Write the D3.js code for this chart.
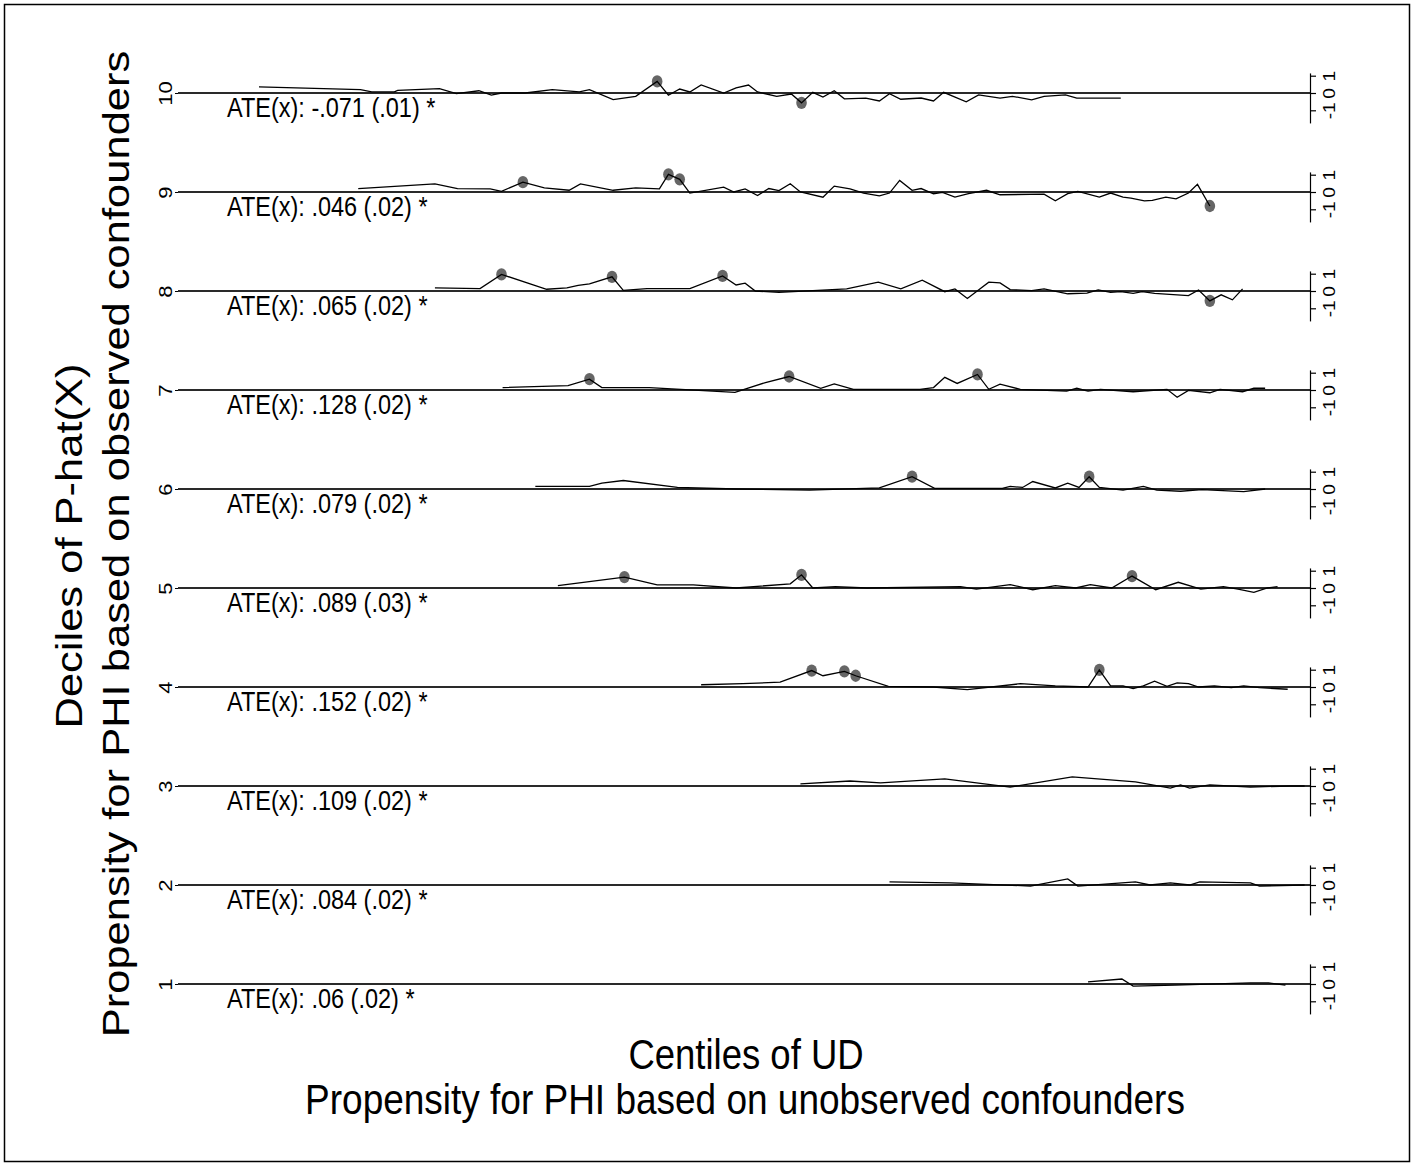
<!DOCTYPE html>
<html>
<head>
<meta charset="utf-8">
<script src="https://d3js.org/d3.v7.min.js"></script>
<style>
  body { margin: 0; background: #fff; }
  svg { display: block; font-family: "Liberation Sans", Arial, sans-serif; }
</style>
</head>
<body>
<svg id="chart" width="1414" height="1166"></svg>
<script>
// deciles of P-hat(X), top row first
const deciles = [10, 9, 8, 7, 6, 5, 4, 3, 2, 1];
const ateLabels = [
  'ATE(x): -.071 (.01) *', 'ATE(x): .046 (.02) *', 'ATE(x): .065 (.02) *',
  'ATE(x): .128 (.02) *', 'ATE(x): .079 (.02) *', 'ATE(x): .089 (.03) *',
  'ATE(x): .152 (.02) *', 'ATE(x): .109 (.02) *', 'ATE(x): .084 (.02) *',
  'ATE(x): .06 (.02) *'
];
const rightTicks = [-1, 0, 1];

// [centile of UD, effect] per decile
const d10 = [[7,0.35],[16,0.19],[17,0.06],[19,0.06],[19.3,0.15],[23,0.25],[24.5,-0.04],[26.5,0.13],[27.6,-0.12],[28.5,0],[30.6,0],[33,0.19],[35.4,0.06],[36.3,0.19],[38.4,-0.38],[40.4,-0.19],[42.3,0.67],[43.3,-0.13],[44.3,0.23],[45.2,0.06],[46.2,0.47],[48.2,0],[49.3,0.29],[50.4,0.46],[51.2,0.06],[52.9,-0.19],[54.2,-0.06],[55.1,-0.57],[56.1,0.04],[57,-0.23],[58,0.13],[58.9,-0.34],[60.8,-0.3],[62,-0.46],[62.9,-0.04],[63.9,-0.36],[65.7,-0.29],[66.8,-0.46],[67.7,0.04],[69.7,-0.51],[70.8,-0.11],[72.7,-0.3],[73.8,-0.19],[75.5,-0.4],[76.6,-0.19],[78.5,-0.11],[79.5,-0.3],[83.4,-0.3]];
const d9 = [[15.8,0.2],[22.6,0.47],[24.6,0.2],[27.5,0.18],[28.5,0.04],[30.4,0.57],[32.3,0.24],[34.5,0.1],[35.5,0.47],[38.4,0.1],[40.4,0.24],[42.5,0.18],[43.3,1.02],[44.3,0.73],[45.2,-0.06],[48.2,0.28],[49.1,0],[50.1,0.18],[51.2,-0.2],[52.2,0.2],[53.1,0.08],[54.1,0.48],[55,0],[57,-0.3],[58,0.34],[59.4,0.18],[60.6,-0.06],[62,-0.22],[62.9,-0.06],[63.8,0.67],[64.9,0.1],[65.7,0.2],[66.8,-0.1],[67.6,-0.02],[68.7,-0.3],[69.9,-0.1],[71.5,0.1],[72.7,-0.16],[76.6,-0.12],[77.6,-0.51],[78.7,-0.1],[79.6,0.04],[81.5,-0.3],[82.5,-0.06],[83.6,-0.3],[84.3,-0.36],[85.5,-0.51],[86.2,-0.48],[87.4,-0.3],[88.3,-0.4],[89.4,-0.06],[90.2,0.44],[91.3,-0.81]];
const d8 = [[22.6,0.18],[26.6,0.14],[28.5,0.96],[32.5,0.1],[34.3,0.18],[35.3,0.33],[36.3,0.41],[38.3,0.82],[39.3,0.04],[41.4,0.14],[45.2,0.14],[48.1,0.87],[49.3,0.35],[50.1,0.45],[51,0],[53.1,-0.08],[59.1,0.12],[61.9,0.51],[63.9,0.12],[65.8,0.63],[67.8,-0.04],[68.7,0.12],[69.8,-0.43],[71.7,0.51],[72.7,0.47],[73.6,0.08],[75.5,0.02],[76.6,0.12],[78.7,-0.16],[80.4,-0.12],[81.4,0.06],[82.5,-0.08],[83.4,-0.04],[84.5,-0.14],[85.3,-0.04],[86.4,-0.14],[89.4,-0.27],[90.3,0.06],[91.3,-0.57],[92.3,-0.22],[93.3,-0.51],[94.2,0.12]];
const d7 = [[28.6,0.14],[34.4,0.25],[36.3,0.63],[37.4,0.14],[41.6,0.14],[49.2,-0.14],[51.9,0.43],[54,0.78],[56.8,0.1],[58,0.35],[59.7,0.04],[65.6,0.04],[66.8,0.14],[67.8,0.73],[68.9,0.38],[70.7,0.9],[71.7,0.04],[72.7,0.34],[74.5,0.04],[78.6,-0.06],[79.5,0.1],[80.5,-0.06],[81.6,0.04],[84.5,-0.1],[87.5,0.04],[88.4,-0.42],[89.4,-0.02],[91.3,-0.16],[92.2,0.04],[94.2,-0.1],[95.2,0.1],[96.2,0.1]];
const d6 = [[31.5,0.15],[36.3,0.15],[37.4,0.34],[39.3,0.49],[44.1,0.09],[49.3,0],[55.8,-0.06],[62,0.06],[64.9,0.71],[66.9,0.04],[72.9,0.04],[73.6,0.15],[74.7,0.09],[75.6,0.43],[77.6,0.06],[78.7,0.34],[79.7,0.09],[80.6,0.71],[81.5,0.09],[83.6,-0.06],[85.4,0.15],[86.6,-0.06],[88.7,-0.13],[90.6,-0.04],[94.3,-0.15],[96.2,0]];
const d5 = [[33.5,0.14],[39.4,0.63],[42.3,0.18],[45.5,0.18],[49.3,0],[54.1,0.24],[55.1,0.76],[56.1,0],[58.1,0.08],[60.9,0],[69.2,0.08],[70.6,-0.06],[73.6,0.2],[75.6,-0.1],[77.6,0.14],[79.4,0],[80.7,0.2],[82.6,0],[84.4,0.69],[86.5,-0.1],[88.5,0.33],[90.5,-0.06],[92.5,0.08],[93.8,-0.06],[95.2,-0.25],[96.4,0],[97.3,0.08]];
const d4 = [[46.2,0.13],[49.9,0.19],[53.2,0.28],[56,0.95],[57,0.65],[58.9,0.9],[59.9,0.65],[62.8,0.04],[66.8,0],[69.8,-0.15],[74.5,0.19],[77.6,0.06],[80.5,0],[81.5,0.99],[82.5,0.06],[83.6,0.06],[84.5,-0.09],[85.4,0.06],[86.4,0.34],[87.5,0.04],[88.4,0.24],[89.4,0.19],[90.3,0],[91.7,0.06],[93.2,-0.04],[94.3,0.06],[95.7,-0.04],[98.2,-0.13]];
const d3v = [[55,0.12],[59.4,0.29],[62.1,0.18],[67.8,0.41],[73.6,-0.06],[79.1,0.53],[84.7,0.24],[87.8,-0.12],[88.7,0.06],[89.5,-0.12],[91.3,0.06],[94.9,-0.06],[98.4,0],[99.7,0]];
const d2 = [[62.9,0.18],[68.3,0.12],[75.4,-0.06],[78.7,0.35],[79.6,-0.06],[84.7,0.18],[86,0],[87.8,0.12],[89.5,0],[90.4,0.18],[94.9,0.12],[95.7,-0.06],[99.7,0]];
const d1 = [[80.5,0.12],[83.5,0.29],[84.5,-0.12],[88.2,-0.06],[94.9,0.06],[96.5,0.06],[98,-0.06]];

// centiles where the effect is significant (drawn with a marker)
const sig10 = [42.3, 55.1];
const sig9 = [30.4, 43.3, 44.3, 91.3];
const sig8 = [28.5, 38.3, 48.1, 91.3];
const sig7 = [36.3, 54, 70.7];
const sig6 = [64.9, 80.6];
const sig5 = [39.4, 55.1, 84.4];
const sig4 = [56, 58.9, 59.9, 81.5];
const sig3 = [];
const sig2 = [];
const sig1 = [];

const series = [d10, d9, d8, d7, d6, d5, d4, d3v, d2, d1];
const sigs = [sig10, sig9, sig8, sig7, sig6, sig5, sig4, sig3, sig2, sig1];

const svg = d3.select('#chart');
const k = 1.16; // vertical stretch of the exported graph

// frame
svg.append('rect')
  .attr('x', 4.5).attr('y', 4.5)
  .attr('width', 1405).attr('height', 1157)
  .attr('fill', 'none').attr('stroke', '#000').attr('stroke-width', 1.5);

const x = d3.scaleLinear().domain([0, 100]).range([180, 1308]);
const rowY = d3.scaleLinear().domain([1, 10]).range([984, 93]);
const unit = 17.3; // px per unit of effect

// left axis with decile labels
const leftAxis = svg.append('g')
  .attr('transform', 'translate(178,0)')
  .call(d3.axisLeft(rowY).tickValues(deciles).tickSize(3).tickSizeOuter(0));
leftAxis.select('.domain').remove();
leftAxis.selectAll('line').attr('stroke', '#000');
leftAxis.selectAll('text')
  .attr('x', null).attr('dy', null)
  .attr('text-anchor', 'middle')
  .attr('font-size', 19)
  .attr('font-family', null)
  .attr('fill', '#000')
  .attr('transform', `translate(-6,0) scale(1,${k}) rotate(-90)`);

deciles.forEach((dec, i) => {
  const base = rowY(dec);
  const y = d3.scaleLinear()
    .domain([-1, 1])
    .range([base + unit, base - unit]);
  const data = series[i];
  const row = svg.append('g').attr('class', 'row');

  // zero line
  row.append('line')
    .attr('x1', x(0) - 2).attr('x2', x(100) + 2)
    .attr('y1', y(0)).attr('y2', y(0))
    .attr('stroke', '#2a2a2a').attr('stroke-width', 2);

  // right axis
  const axisScale = d3.scaleLinear()
    .domain([-1.73, 1.16])
    .range([y(-1.73), y(1.16)]);
  const ax = row.append('g')
    .attr('transform', `translate(${x(100) + 2},0)`)
    .call(d3.axisRight(axisScale)
      .tickValues(rightTicks).tickSize(6).tickSizeOuter(0).tickFormat(d => String(d)));
  ax.selectAll('.domain, line').attr('stroke', '#000').attr('stroke-width', 1.2);
  ax.selectAll('text')
    .attr('x', null).attr('dy', null)
    .attr('text-anchor', 'middle')
    .attr('font-size', 16.5)
    .attr('font-family', null)
    .attr('fill', '#000')
    .attr('transform', `translate(25,0) scale(1,${k}) rotate(-90)`);

  // significant markers
  const lookup = new Map(data.map(d => [d[0], d[1]]));
  row.selectAll('ellipse')
    .data(sigs[i])
    .enter()
    .append('ellipse')
    .attr('cx', c => x(c))
    .attr('cy', c => y(lookup.get(c)))
    .attr('rx', 5.3).attr('ry', 5.3 * k)
    .attr('fill', '#555').attr('fill-opacity', 0.9);

  // effect line
  row.append('path')
    .datum(data)
    .attr('d', d3.line().x(d => x(d[0])).y(d => y(d[1])))
    .attr('fill', 'none')
    .attr('stroke', '#000')
    .attr('stroke-width', 1.3);

  // ATE label
  row.append('text')
    .attr('transform', `translate(227,${base + 24}) scale(1,${k})`)
    .attr('font-size', 23.5)
    .text(ateLabels[i]);
});

// axis titles
const yTitle = svg.append('g');
yTitle.append('text')
  .attr('transform', `translate(82,546) scale(1,${k}) rotate(-90)`)
  .attr('text-anchor', 'middle').attr('font-size', 37.5)
  .text('Deciles of P-hat(X)');
yTitle.append('text')
  .attr('transform', `translate(129,544) scale(1,${k}) rotate(-90)`)
  .attr('text-anchor', 'middle').attr('font-size', 37.5)
  .text('Propensity for PHI based on observed confounders');

const xTitle = svg.append('g');
xTitle.append('text')
  .attr('transform', `translate(746,1069) scale(1,${k})`)
  .attr('text-anchor', 'middle').attr('font-size', 36.5)
  .text('Centiles of UD');
xTitle.append('text')
  .attr('transform', `translate(745,1114) scale(1,${k})`)
  .attr('text-anchor', 'middle').attr('font-size', 37)
  .text('Propensity for PHI based on unobserved confounders');
</script>
</body>
</html>
